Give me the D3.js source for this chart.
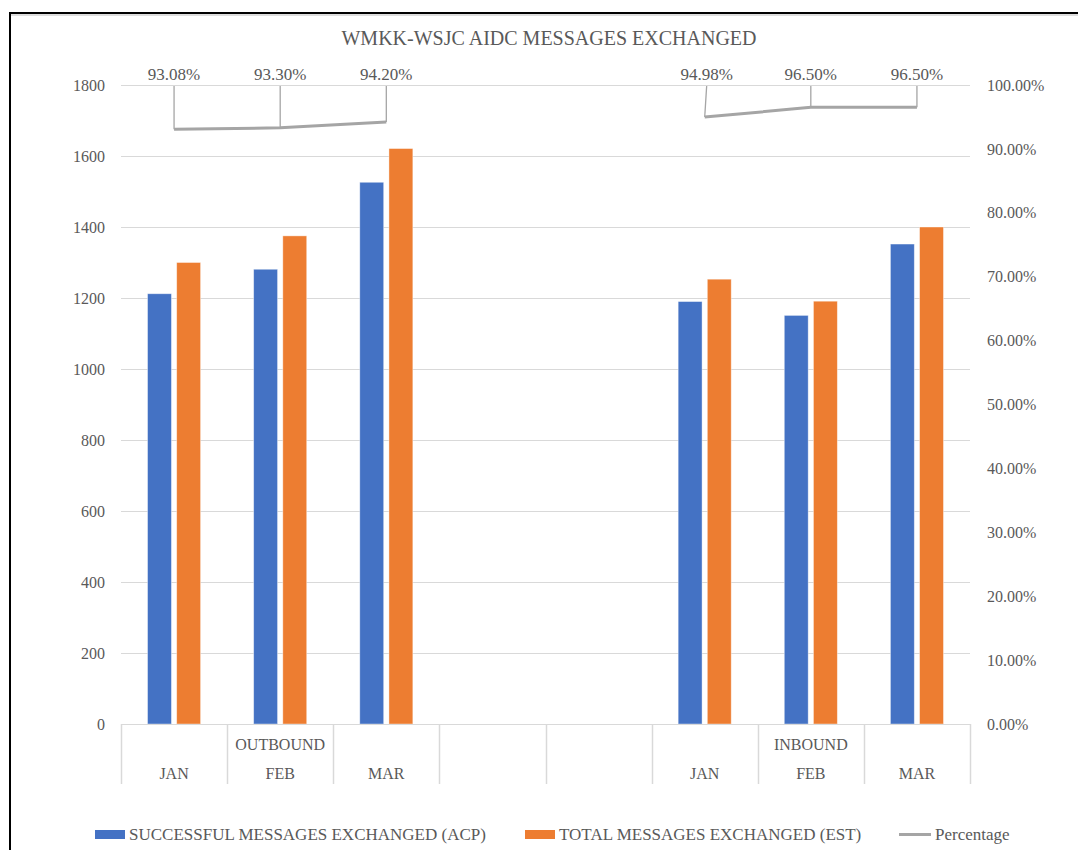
<!DOCTYPE html>
<html>
<head>
<meta charset="utf-8">
<script src="https://cdn.jsdelivr.net/npm/d3@7"></script>
<style>
  body { margin: 0; background: #fff; }
  svg text { font-family: "Liberation Serif", "Times New Roman", serif; fill: #595959; }
</style>
</head>
<body>
<svg id="chart"></svg>
<script>
// data
let months = ["JAN", "FEB", "MAR", "", "", "JAN", "FEB", "MAR"];
let groups = ["OUTBOUND", "OUTBOUND", "OUTBOUND", "", "", "INBOUND", "INBOUND", "INBOUND"];
let acp = [1212, 1281, 1526, null, null, 1190, 1151, 1352];
let est = [1300, 1375, 1621, null, null, 1253, 1191, 1400];
let pct = [0.9308, 0.9330, 0.9420, null, null, 0.9498, 0.9650, 0.9650];
let leftTicks = [0, 200, 400, 600, 800, 1000, 1200, 1400, 1600, 1800];
let rightTicks = [0, 0.1, 0.2, 0.3, 0.4, 0.5, 0.6, 0.7, 0.8, 0.9, 1.0];
let seriesNames = ["SUCCESSFUL MESSAGES EXCHANGED (ACP)", "TOTAL MESSAGES EXCHANGED (EST)"];
let title = "WMKK-WSJC AIDC MESSAGES EXCHANGED";

let width = 1078, height = 850;
let plotLeft = 121, plotRight = 970, plotTop = 85, plotBottom = 724;
let blue = "#4472C4", orange = "#ED7D31", grey = "#A5A5A5", grid = "#D9D9D9";
let serif = "'Liberation Serif', 'Times New Roman', serif";

let svg = d3.select("#chart").attr("width", width).attr("height", height);

// frame
svg.append("rect").attr("x", 10).attr("y", 13).attr("width", width + 20).attr("height", height + 20)
   .attr("fill", "none").attr("stroke", "#000").attr("stroke-width", 2);
svg.append("line").attr("x1", 11).attr("x2", width).attr("y1", 15).attr("y2", 15)
   .attr("stroke", "#bbb").attr("stroke-width", 1);

let idx = d3.range(months.length);
let x = d3.scaleBand().domain(idx).range([plotLeft, plotRight]).padding(0);
let x1 = d3.scaleBand().domain([0, 1])
           .range([x.bandwidth() * 0.25, x.bandwidth() * 0.75]).paddingInner(0.18);
let yLeft = d3.scaleLinear().domain([0, 1800]).range([plotBottom, plotTop]);
let yRight = d3.scaleLinear().domain([0, 1]).range([plotBottom, plotTop]);

// title
svg.append("text").attr("x", 549).attr("y", 45).attr("text-anchor", "middle")
   .style("font-size", "20px").text(title);

// gridlines
svg.append("g").selectAll("line").data(leftTicks.slice(1)).enter().append("line")
   .attr("x1", plotLeft).attr("x2", plotRight)
   .attr("y1", d => yLeft(d) + 0.5).attr("y2", d => yLeft(d) + 0.5)
   .attr("stroke", grid).attr("stroke-width", 1);

// left axis
let leftAxis = svg.append("g").attr("transform", "translate(" + plotLeft + ",0)")
   .call(d3.axisLeft(yLeft).tickValues(leftTicks).tickFormat(d3.format("d")).tickSize(0).tickPadding(16));
leftAxis.select(".domain").remove();

// right axis
let rightAxis = svg.append("g").attr("transform", "translate(" + plotRight + ",0)")
   .call(d3.axisRight(yRight).tickValues(rightTicks).tickFormat(d3.format(".2%")).tickSize(0).tickPadding(17));
rightAxis.select(".domain").remove();

[leftAxis, rightAxis].forEach(ax => {
  ax.attr("font-family", null).attr("font-size", null);
  ax.selectAll("text").style("font-size", "16px").style("font-family", serif).attr("fill", null);
});

// bars
let series = [acp, est];
let colors = [blue, orange];
series.forEach((vals, s) => {
  svg.append("g").selectAll("rect")
     .data(idx.filter(i => vals[i] != null)).enter().append("rect")
     .attr("x", i => x(i) + x1(s))
     .attr("width", x1.bandwidth())
     .attr("y", i => yLeft(vals[i]))
     .attr("height", i => plotBottom - yLeft(vals[i]))
     .attr("fill", colors[s])
     .attr("stroke", "#fff").attr("stroke-opacity", 0.5).attr("stroke-width", 0.8);
});

// category axis
svg.append("line").attr("x1", plotLeft).attr("x2", plotRight)
   .attr("y1", plotBottom + 0.5).attr("y2", plotBottom + 0.5)
   .attr("stroke", grid).attr("stroke-width", 1);
let bounds = idx.map(i => x(i)).concat([plotRight]);
svg.append("g").selectAll("line").data(bounds).enter().append("line")
   .attr("x1", d => Math.round(d) + 0.5).attr("x2", d => Math.round(d) + 0.5)
   .attr("y1", plotBottom).attr("y2", 784)
   .attr("stroke", grid).attr("stroke-width", 1.5);
svg.append("g").selectAll("text").data(idx).enter().append("text")
   .attr("x", i => x(i) + x.bandwidth() / 2).attr("y", 779)
   .attr("text-anchor", "middle").style("font-size", "16px").style("font-family", serif)
   .text(i => months[i]);
let groupNames = Array.from(new Set(groups.filter(g => g !== "")));
svg.append("g").selectAll("text").data(groupNames).enter().append("text")
   .attr("x", g => {
     let members = idx.filter(i => groups[i] === g);
     return (x(members[0]) + x(members[members.length - 1]) + x.bandwidth()) / 2;
   })
   .attr("y", 750).attr("text-anchor", "middle").style("font-size", "16px").style("font-family", serif)
   .text(g => g);

// percentage line
let line = d3.line()
  .defined(i => pct[i] != null)
  .x(i => x(i) + x.bandwidth() / 2)
  .y(i => yRight(pct[i]));
svg.append("path").datum(idx).attr("d", line)
   .attr("fill", "none").attr("stroke", grey).attr("stroke-width", 3);

// data labels with leader lines
let labelled = idx.filter(i => pct[i] != null);
let labelOffset = [0, 0, 0, 0, 0, 2, 0, 0];
svg.append("g").selectAll("line").data(labelled).enter().append("line")
   .attr("x1", i => x(i) + x.bandwidth() / 2 + labelOffset[i]).attr("y1", 86)
   .attr("x2", i => x(i) + x.bandwidth() / 2).attr("y2", i => yRight(pct[i]))
   .attr("stroke", grey).attr("stroke-width", 1.3);
svg.append("g").selectAll("text").data(labelled).enter().append("text")
   .attr("x", i => x(i) + x.bandwidth() / 2 + labelOffset[i]).attr("y", 80)
   .attr("text-anchor", "middle").style("font-size", "17px").style("font-family", serif)
   .text(i => d3.format(".2%")(pct[i]));

// legend
let legend = svg.append("g");
let legendX = [95, 525];
seriesNames.forEach((name, s) => {
  legend.append("rect").attr("x", legendX[s]).attr("y", 830).attr("width", 30).attr("height", 9)
        .attr("fill", colors[s]);
  legend.append("text").attr("x", legendX[s] + 34).attr("y", 840)
        .style("font-size", "17px").style("font-family", serif).text(name);
});
legend.append("line").attr("x1", 899).attr("x2", 931).attr("y1", 834.5).attr("y2", 834.5)
      .attr("stroke", grey).attr("stroke-width", 3);
legend.append("text").attr("x", 935).attr("y", 840)
      .style("font-size", "17px").style("font-family", serif).text("Percentage");
</script>
</body>
</html>
